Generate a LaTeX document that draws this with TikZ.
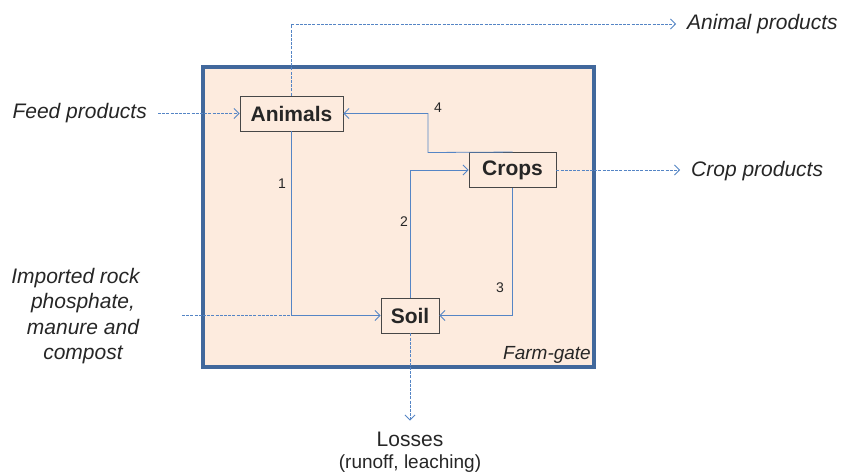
\documentclass[tikz,border=0pt]{standalone}
\usepackage{fontspec}
\setmainfont{Liberation Sans}
\usetikzlibrary{positioning,arrows.meta}
\definecolor{gatefill}{HTML}{FDEBDE}
\definecolor{gateline}{HTML}{41689C}
\definecolor{flowblue}{HTML}{5585C5}
\definecolor{inktext}{HTML}{262626}

\begin{document}
\begin{tikzpicture}[x=1pt,y=-1pt,
  pool/.style={draw=inktext!85,line width=0.9pt,fill=gatefill,text=inktext,
    font=\fontsize{21}{25}\selectfont\bfseries,minimum height=35pt,inner sep=0pt},
  outside/.style={text=inktext,font=\fontsize{21}{25.5}\selectfont\itshape,
    inner xsep=11pt,inner ysep=0pt},
  flow/.style={draw=flowblue,line width=0.8pt,-{Straight Barb[length=5pt,width=10pt]}},
  leak/.style={flow,dash pattern=on 3pt off 1.2pt},
  num/.style={text=inktext,font=\fontsize{14}{16}\selectfont}]
\useasboundingbox (0,0) rectangle (843,473);

\node[draw=gateline,line width=3.2pt,fill=gatefill,minimum width=391pt,
  minimum height=300pt,inner sep=0pt] (farm) at (398.5,217) {};
\node[anchor=base east,text=inktext,font=\fontsize{19}{22}\selectfont\itshape,
  inner sep=0pt] (gate) at (591,359) {Farm-gate};

\node[pool,minimum width=103pt] (animals) at (291.5,113.5) {Animals};
\node[pool,minimum width=87pt] (crops) at (512.5,170) {Crops};
\node[pool,minimum width=58pt] (soil) at (410,315.5) {Soil};

\node[outside,anchor=east] (feed) at (158,113.5) {Feed products};
\node[outside,anchor=west] (aprod) at (676,24) {Animal products};
\node[outside,anchor=west] (cprod) at (680,171) {Crop products};
\node[outside,align=center,anchor=north] (imported) at (83,268)
  {Imported rock\hspace*{15pt}\\phosphate,\\manure and\\compost};
\node[anchor=base,text=inktext,font=\fontsize{21}{25}\selectfont] (losses) at (410,446.5) {Losses};
\node[anchor=base,text=inktext,font=\fontsize{19}{22}\selectfont] (leaching) at (410,468) {(runoff, leaching)};

\node[num] (n1) at (282,184) {1};
\node[num] (n2) at (404,222) {2};
\node[num] (n3) at (500,288) {3};
\node[num] (n4) at (438,108) {4};

\coordinate (bend4) at (428,152.5);
\coordinate (join1) at (animals.south |- soil.west);
\coordinate (rockin) at (182,315.5);

\draw[flow] (animals.south) |- (soil.west);
\draw[flow] (soil.north) |- (crops.west);
\draw[flow] (crops.south) |- (soil.east);
\draw[flow] (crops.north) -- (bend4) |- (animals.east);

\draw[leak,-] (rockin) -- (join1);
\draw[leak] (feed.east) -- (animals.west);
\draw[leak] (animals.north) |- (aprod.west);
\draw[leak] (crops.east) -- (crops.east -| cprod.west);
\draw[leak,shorten >=8pt] (soil.south) -- (losses.north);
\end{tikzpicture}
\end{document}
